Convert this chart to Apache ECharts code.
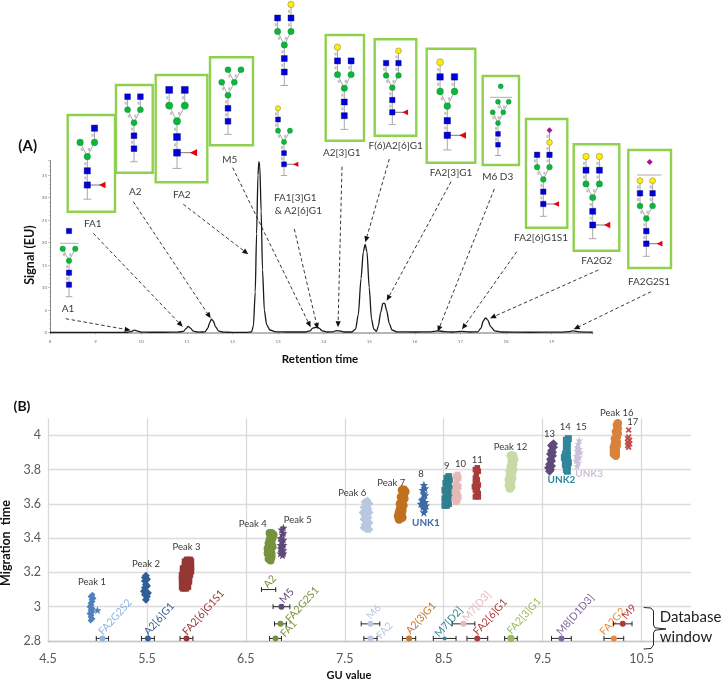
<!DOCTYPE html>
<html><head><meta charset="utf-8">
<style>html,body{margin:0;padding:0;background:#fff}#c{width:722px;height:679px}</style>
<script src="https://cdn.jsdelivr.net/npm/echarts@6/dist/echarts.min.js"></script>
</head><body><div id="c"></div>
<script>
// ---------- Panel A data ----------
const traceTime=[8.0,8.5,9.0,9.5,9.7,9.78,9.85,9.92,10.0,10.2,10.5,10.8,10.93,10.98,11.03,11.08,11.14,11.25,11.4,11.46,11.5,11.54,11.58,11.63,11.7,11.8,12.0,12.3,12.42,12.46,12.5,12.53,12.56,12.58,12.6,12.63,12.66,12.7,12.75,12.82,12.95,13.2,13.6,13.7,13.76,13.8,13.85,13.9,13.97,14.08,14.2,14.28,14.35,14.45,14.62,14.7,14.76,14.82,14.87,14.91,14.95,15.0,15.05,15.1,15.16,15.2,15.25,15.3,15.34,15.38,15.44,15.5,15.6,16.0,16.35,16.5,16.65,16.85,17.03,17.2,17.38,17.45,17.5,17.55,17.6,17.66,17.75,17.9,18.5,19.2,19.4,19.47,19.6,19.9];
const traceSignal=[0.05,0.05,0.05,0.08,0.1,0.25,0.55,0.35,0.12,0.1,0.1,0.12,0.3,0.9,1.4,1.0,0.35,0.12,0.2,1.0,2.2,3.0,2.6,1.3,0.35,0.12,0.08,0.08,0.2,1.5,9,22,35,38,37,27,14,5,1.8,0.6,0.2,0.15,0.15,0.4,1.0,1.1,1.25,1.0,0.4,0.15,0.2,0.45,0.4,0.15,0.15,0.8,4,12,18,19.6,18,10,3,0.8,0.3,1.5,4.5,6.5,6.5,5,2,0.6,0.2,0.15,0.2,0.4,0.25,0.15,0.3,0.15,0.2,1,2.6,3.3,2.8,1.4,0.4,0.15,0.1,0.12,0.25,0.4,0.2,0.1];

// ---------- Panel B data: replicate clusters [GU, migration time] ----------
const peak1=[[4.95,3.07],[4.93,3.06],[4.96,3.05],[4.94,3.04],[4.95,3.03],[4.93,3.02],[4.94,3.01],[4.92,3.0],[4.95,2.99],[4.93,2.98],[4.95,2.97],[4.92,2.96],[4.94,2.95],[4.93,2.94],[4.95,2.93],[4.93,2.92]];
const peak1b=[[5.0,2.98]];
const peak2=[[5.49,3.18],[5.48,3.17],[5.5,3.16],[5.48,3.15],[5.49,3.13],[5.5,3.12],[5.48,3.11],[5.47,3.09],[5.49,3.08],[5.51,3.08],[5.48,3.07],[5.5,3.06],[5.49,3.04]];
const peak3=[[5.93,3.27],[5.91,3.27],[5.89,3.26],[5.94,3.26],[5.92,3.25],[5.89,3.24],[5.94,3.23],[5.87,3.22],[5.91,3.22],[5.94,3.21],[5.87,3.2],[5.9,3.2],[5.93,3.19],[5.86,3.18],[5.89,3.18],[5.92,3.17],[5.86,3.16],[5.9,3.15],[5.92,3.15],[5.87,3.14],[5.9,3.13],[5.86,3.12],[5.88,3.12],[5.91,3.12],[5.87,3.11],[5.89,3.11]];
const peak4=[[6.76,3.43],[6.74,3.43],[6.78,3.42],[6.75,3.41],[6.77,3.4],[6.74,3.39],[6.76,3.38],[6.73,3.37],[6.76,3.36],[6.74,3.35],[6.77,3.35],[6.72,3.34],[6.75,3.33],[6.73,3.32],[6.76,3.31],[6.72,3.31],[6.74,3.3],[6.76,3.29],[6.73,3.28],[6.75,3.27]];
const peak5=[[6.88,3.46],[6.86,3.45],[6.88,3.43],[6.87,3.42],[6.85,3.4],[6.88,3.39],[6.86,3.38],[6.88,3.36],[6.85,3.36],[6.87,3.35],[6.85,3.34],[6.88,3.33],[6.86,3.32],[6.88,3.31],[6.85,3.31],[6.87,3.3]];
const peak6=[[7.73,3.62],[7.7,3.61],[7.75,3.6],[7.72,3.59],[7.69,3.58],[7.74,3.57],[7.71,3.56],[7.75,3.55],[7.68,3.55],[7.72,3.54],[7.7,3.53],[7.74,3.52],[7.69,3.51],[7.72,3.5],[7.75,3.49],[7.7,3.48],[7.73,3.47],[7.69,3.46],[7.72,3.45],[7.75,3.45]];
const peak7=[[8.1,3.68],[8.08,3.68],[8.11,3.67],[8.09,3.65],[8.07,3.64],[8.1,3.63],[8.08,3.61],[8.06,3.6],[8.09,3.59],[8.06,3.57],[8.08,3.56],[8.05,3.55],[8.07,3.54],[8.04,3.53],[8.06,3.52],[8.08,3.52],[8.05,3.51]];
const peak8=[[8.3,3.71],[8.31,3.69],[8.29,3.68],[8.3,3.66],[8.31,3.65],[8.29,3.63],[8.28,3.62],[8.31,3.61],[8.27,3.6],[8.3,3.6],[8.32,3.59],[8.29,3.58],[8.31,3.57],[8.3,3.55]];
const peak9=[[8.55,3.76],[8.53,3.75],[8.56,3.74],[8.54,3.73],[8.52,3.72],[8.55,3.71],[8.53,3.7],[8.56,3.69],[8.51,3.68],[8.54,3.67],[8.56,3.66],[8.52,3.65],[8.55,3.64],[8.51,3.63],[8.54,3.62],[8.52,3.61],[8.55,3.6],[8.51,3.59],[8.53,3.59]];
const peak10=[[8.64,3.77],[8.62,3.76],[8.65,3.75],[8.63,3.73],[8.62,3.71],[8.65,3.7],[8.63,3.69],[8.61,3.67],[8.64,3.66],[8.62,3.65],[8.65,3.64],[8.61,3.63],[8.64,3.62],[8.62,3.61]];
const peak11=[[8.84,3.81],[8.82,3.8],[8.85,3.79],[8.83,3.77],[8.82,3.75],[8.84,3.74],[8.82,3.72],[8.85,3.71],[8.81,3.7],[8.84,3.69],[8.82,3.68],[8.85,3.66],[8.83,3.65],[8.82,3.64],[8.85,3.64]];
const peak12=[[9.2,3.88],[9.18,3.88],[9.21,3.86],[9.19,3.85],[9.2,3.83],[9.18,3.82],[9.2,3.8],[9.17,3.79],[9.19,3.78],[9.17,3.76],[9.19,3.75],[9.16,3.74],[9.18,3.73],[9.16,3.71],[9.18,3.7],[9.17,3.69]];
const peak13=[[9.61,3.95],[9.59,3.94],[9.61,3.93],[9.59,3.91],[9.6,3.9],[9.58,3.89],[9.6,3.88],[9.58,3.86],[9.59,3.85],[9.57,3.83],[9.59,3.82],[9.56,3.81],[9.58,3.8],[9.57,3.79]];
const peak14=[[9.76,3.98],[9.74,3.97],[9.75,3.95],[9.74,3.93],[9.75,3.91],[9.73,3.89],[9.75,3.88],[9.72,3.87],[9.75,3.86],[9.74,3.85],[9.76,3.84],[9.73,3.83],[9.75,3.82],[9.74,3.8],[9.75,3.79]];
const peak15=[[9.87,3.97],[9.86,3.95],[9.85,3.93],[9.87,3.92],[9.85,3.91],[9.88,3.9],[9.86,3.89],[9.84,3.88],[9.87,3.87],[9.85,3.86],[9.84,3.85],[9.86,3.84],[9.85,3.82]];
const peak16=[[10.26,4.07],[10.25,4.06],[10.26,4.04],[10.24,4.02],[10.26,4.01],[10.25,3.99],[10.23,3.98],[10.25,3.96],[10.23,3.95],[10.25,3.94],[10.22,3.93],[10.24,3.92],[10.22,3.91],[10.24,3.9],[10.22,3.89],[10.24,3.88]];
const peak17=[[10.37,4.03],[10.37,3.99],[10.36,3.98],[10.38,3.97],[10.36,3.96],[10.37,3.95],[10.38,3.95],[10.36,3.94],[10.37,3.93]];

const clusterColors=['#4f81bd','#4f81bd','#2f5f96','#953735','#76923c','#5f497a','#b9c8e0','#c0711f','#3d6ba8','#2f7f8f','#e6b9b8','#a93c3a','#c8daa5','#604a7b','#31859c','#ccc1da','#d9823b','#c0504d'];

// Database window
const dbNames=['FA2G2S2','A2[6]G1','FA2[6]G1S1','A2','M5','FA2G2S1','FA1','M6','FA2','A2(3)G1','M7[D2]','M7[D3]','FA2[6]G1','FA2[3]G1','M8[D1D3]','FA2G2','M9'];
const dbGU=[5.05,5.51,5.90,6.73,6.86,6.85,6.80,7.76,7.76,8.15,8.51,8.70,8.84,9.18,9.69,10.22,10.31];
const dbMT=[2.815,2.815,2.815,3.10,3.0,2.9,2.815,2.9,2.815,2.815,2.815,2.9,2.815,2.815,2.815,2.815,2.9];
const dbErr=[0.062,0.065,0.065,0.072,0.085,0.06,0.06,0.094,0.067,0.067,0.115,0.115,0.105,0.064,0.10,0.10,0.094];
const dbColors=['#8db4e2','#376092','#953735','#76923c','#5f497a','#76923c','#76923c','#b9c8e0','#b9c8e0','#c8742a','#31859c','#e6b9b8','#a93c3a','#9bbb59','#7f66a0','#e8893a','#b03a3a'];
const dbDot=[3,3,3,0,3,3,3,3,3,3,2,3,3,3.6,3,3,3];
const dbLabelDX=[-2,-2,-2,-3,0,7,7,-2,8,-1,-8,1,-2,-2,-3,-12,1];
const dbLabelDY=[-5,-5,-5,-3,-5,-3,-3,-6,-1,-6,-3,-4,-5,-6,-5,-5,-6];

const peakNames=['Peak 1','Peak 2','Peak 3','Peak 4','Peak 5','Peak 6','Peak 7','8','9','10','11','Peak 12','13','14','15','Peak 16','17'];
const peakNameGU=[4.945,5.49,5.90,6.57,7.025,7.575,7.97,8.27,8.53,8.67,8.84,9.175,9.57,9.73,9.89,10.25,10.41];
const peakNameMT=[3.142,3.249,3.35,3.484,3.505,3.665,3.72,3.772,3.818,3.833,3.857,3.931,4.008,4.047,4.049,4.127,4.075];
const unkNames=['UNK1','UNK2','UNK3'];
const unkGU=[8.32,9.69,9.97];
const unkMT=[3.492,3.742,3.777];
const unkColors=['#3d6ba8','#31859c','#ccc1da'];

// ---------- Annotation graphics (glycan cartoons, frames, arrows) ----------
const FONT='Lato';
const g=[];
const BLUE='#0000dd',GREEN='#0db53c',YEL='#ffee00',RED='#e8000d',MAG='#a5129c',STEM='#a8a8a8';
function line(x1,y1,x2,y2,c,w){g.push({type:'line',z:20,shape:{x1,y1,x2,y2},style:{stroke:c||STEM,lineWidth:w||1}});}
function node(t,x,y,a){
  if(t==='N'){const s=a*0.44;g.push({type:'rect',z:21,shape:{x:x-s/2,y:y-s/2,width:s,height:s},style:{fill:BLUE,stroke:'#000066',lineWidth:0.4}});}
  else if(t==='M'){g.push({type:'circle',z:21,shape:{cx:x,cy:y,r:a*0.235},style:{fill:GREEN,stroke:'#0a7a2a',lineWidth:0.3}});}
  else if(t==='G'){g.push({type:'circle',z:21,shape:{cx:x,cy:y,r:a*0.235},style:{fill:YEL,stroke:'#777',lineWidth:0.5}});}
  else if(t==='S'){const r=a*0.24;g.push({type:'polygon',z:21,shape:{points:[[x,y-r],[x+r,y],[x,y+r],[x-r,y]]},style:{fill:MAG}});}
}
function link(x1,y1,x2,y2){line(x1,y1,x2,y2);const mx=(x1+x2)/2,my=(y1+y2)/2;g.push({type:'rect',z:20,shape:{x:mx-3,y:my-1.5,width:2.2,height:3},style:{fill:'#c4c4c4'}});}
function chain(x,yStart,a,str){let py=null;[...str].forEach((t,i)=>{const y=yStart-i*a;if(py!==null)link(x,py,x,y);node(t,x,y,a);py=y;});}
function glycan(cx,c1,a,b,L,R,fuc,extra){
  const c2=c1-a,man=c1-2*a,br=c1-3*a;
  line(cx,c1,cx,c1+a);line(cx-a*0.28,c1+a,cx+a*0.28,c1+a);
  link(cx,c1,cx,c2);link(cx,c2,cx,man);
  if(L){link(cx,man,cx-b,br);chain(cx-b,br,a,L);}
  if(R){link(cx,man,cx+b,br);chain(cx+b,br,a,R);}
  node('N',cx,c1,a);node('N',cx,c2,a);node('M',cx,man,a);
  if(fuc){const fx=cx+a*1.05,r=a*0.23;line(cx,c1,fx,c1,'#555',0.8);g.push({type:'polygon',z:21,shape:{points:[[fx-r,c1],[fx+r,c1-r],[fx+r,c1+r]]},style:{fill:RED}});}
  (extra||[]).forEach(e=>{
    if(e[0]==='bar'){line(e[1],e[3],e[2],e[3],'#999',0.8);return;}
    if(e.length>3)link(e[3],e[4],e[1],e[2]);
    node(e[0],e[1],e[2],a);
  });
}
function box(l,t,r,b){g.push({type:'rect',z:19,shape:{x:l,y:t,width:r-l,height:b-t},style:{fill:'none',stroke:'#8fd14f',lineWidth:2.4}});}
function txt(s,x,y,o){o=o||{};g.push({type:'text',z:25,x,y,rotation:o.rot||0,style:{text:s,fill:o.fill||'#3a3a3a',font:(o.w||'normal')+' '+(o.size||10)+'px '+FONT,align:o.align||'center',verticalAlign:'middle'}});}
function arrow(x1,y1,x2,y2){
  const d=Math.hypot(x2-x1,y2-y1),ux=(x2-x1)/d,uy=(y2-y1)/d,h=6,w=2.6;
  const bx=x2-ux*h,by=y2-uy*h;
  g.push({type:'line',z:22,shape:{x1,y1,x2:bx,y2:by},style:{stroke:'#222',lineWidth:0.9,lineDash:[3.5,2.5]}});
  g.push({type:'polygon',z:22,shape:{points:[[x2,y2],[bx-uy*w,by+ux*w],[bx+uy*w,by-ux*w]]},style:{fill:'#111'}});
}
[[67.7,115,115,211.7],[116,85,152.7,172.7],[155.7,75,207.3,182.3],[210,57.3,253,145.3],[325.7,35,364,140.7],[374.7,39.3,416.3,135.7],[426.7,48.7,475.3,162.7],[482.7,76,519,165],[526,119,567.3,227.7],[573.7,144.3,619.3,250.7],[628.3,150,671,268]].forEach(b=>box(...b));
glycan(69,284.7,12,6.3,'M','M',false,[['bar',60,78.5,243.3],['N',69,231]]);
glycan(87.3,185,14.2,7.2,'M','MN',true);
glycan(134,148.7,13,6.4,'MN','MN',false);
glycan(177,152.7,15.7,7.8,'MN','MN',true);
glycan(228,121.3,13,6.3,'M','M',false,[['M',228,69.7,234.3,82.3],['M',241,69.7,234.3,82.3]]);
glycan(284.3,72,13.5,6.7,'MN','MNG',false);
glycan(284,164.3,11.2,6,'MNG','M',true);
glycan(344.3,115.7,13.7,6.8,'MNG','MN',false);
glycan(392.3,112.3,12.3,6.2,'MN','MNG',true);
glycan(447.3,135.3,14.6,7.2,'MNG','MN',true);
glycan(498,144.7,10.8,5.3,'M','M',false,[['M',498,101.7,503.3,112.3],['M',508.7,101.7,503.3,112.3],['bar',490,512,97.3],['M',500.7,86.3]]);
glycan(543.3,204,12.3,6.2,'MN','MNGS',true);
glycan(592.7,225,13.7,6.7,'MNG','MNG',true);
glycan(646.3,243.7,12.6,6.3,'MNG','MNG',true,[['bar',637,661.7,175],['S',649.7,162]]);

[['A1',68,309],['FA1',92.7,223.3],['A2',135.3,191.7],['FA2',181.7,194.3],['M5',229.7,159.3],['FA1[3]G1',295.3,197.3],['& A2[6]G1',298.3,210.3],['A2[3]G1',341.7,152.3],['F(6)A2[6]G1',395.7,145.3],['FA2[3]G1',451,172.7],['M6 D3',497.7,176.7],['FA2[6]G1S1',541,238],['FA2G2',596.7,260.7],['FA2G2S1',649,281.7]].forEach(t=>txt(t[0],t[1],t[2]));
[[65.7,318.7,130.7,330.3],[93.3,233.3,182.7,326.7],[133.3,201.7,210.7,318.3],[183.3,204.3,248.3,254.3],[232.7,167.7,310.7,327.3],[294.3,229,317.7,329],[342,166.7,338,327.3],[389.3,159,365.3,242.3],[451,181.7,386.7,300.7],[494.3,189,437.7,331.7],[516.7,251.7,462,329.3],[598.3,270,490,318.3],[651,291.7,573.7,329.3]].forEach(a=>arrow(...a));

txt('(A)',27.7,146,{w:'bold',size:15,fill:'#111'});
txt('(B)',22,406,{w:'bold',size:14,fill:'#111'});
txt('Signal (EU)',30,255,{w:'bold',size:12.5,fill:'#111',rot:Math.PI/2});
txt('Retention time',320,359,{w:'bold',size:11.5,fill:'#111'});
txt('Migration  time',6,543,{w:'bold',size:12.5,fill:'#111',rot:Math.PI/2});
txt('GU value',349,675,{w:'bold',size:11,fill:'#111'});
txt('Database',690.5,617,{size:15,fill:'#222'});
txt('window',686,637,{size:15,fill:'#222'});
g.push({type:'polyline',z:22,shape:{points:[[643.7,607.5],[651,608],[653.5,611],[653.5,625],[655,627.8],[666,629],[655,630.2],[653.5,633],[653.5,645],[651,648.5],[643.7,649]]},style:{fill:'none',stroke:'#111',lineWidth:0.9}});

// ---------- Chart ----------
const star='path://M0,-10 L2.9,-3.1 10,-3.1 4.5,1.5 6.2,8.1 0,4 -6.2,8.1 -4.5,1.5 -10,-3.1 -2.9,-3.1Z';
const cross='path://M-10,-6 L-6,-10 0,-4 6,-10 10,-6 4,0 10,6 6,10 0,4 -6,10 -10,6 -4,0Z';
function cluster(data,colorIdx,symbol,size){return {type:'scatter',xAxisIndex:1,yAxisIndex:1,data,symbol,symbolSize:size,itemStyle:{color:clusterColors[colorIdx],opacity:1},silent:true,animation:false};}

const textSeries=(names,gu,mt,colorFn,weight,size)=>({type:'custom',xAxisIndex:1,yAxisIndex:1,clip:false,silent:true,animation:false,z:6,
  data:names.map((n,i)=>[gu[i],mt[i]]),
  renderItem:(p,api)=>{const c=api.coord([api.value(0),api.value(1)]);return {type:'text',x:c[0],y:c[1],style:{text:names[p.dataIndex],fill:colorFn(p.dataIndex),font:weight+' '+size+'px '+FONT,textAlign:'center',textVerticalAlign:'middle'}};}});

const option={
  animation:false,backgroundColor:'#fff',
  grid:[
    {left:50,top:160.7,width:542.7,height:172},
    {left:48,top:418.3,width:643,height:222.7}
  ],
  xAxis:[
    {type:'value',gridIndex:0,min:8,max:19.9,interval:1,offset:4,splitLine:{show:false},
     axisLine:{lineStyle:{color:'#a0a0a0',width:1.6}},axisTick:{length:2,lineStyle:{color:'#999',width:0.6}},minorTick:{show:true,length:1,splitNumber:5,lineStyle:{color:'#aaa',width:0.5}},
     axisLabel:{fontSize:4.5,color:'#777',margin:2,showMaxLabel:false,fontFamily:FONT}},
    {type:'value',gridIndex:1,min:4.5,max:11,
     axisLine:{show:true,onZero:false,lineStyle:{color:'#c8c8c8',width:1.4}},
     axisTick:{show:false,customValues:[4.5,5.5,6.5,7.5,8.5,9.5,10.5]},
     axisLabel:{customValues:[4.5,5.5,6.5,7.5,8.5,9.5,10.5],color:'#595959',fontSize:12.5,margin:11,fontFamily:FONT},
     splitLine:{show:true,lineStyle:{color:'#d9d9d9',width:1.3}}}
  ],
  yAxis:[
    {type:'value',gridIndex:0,min:0,max:38.2,interval:5,splitLine:{show:false},
     axisLine:{show:true,lineStyle:{color:'#666',width:0.8}},axisTick:{show:true,length:2,lineStyle:{color:'#999',width:0.6}},minorTick:{show:true,length:1,splitNumber:5,lineStyle:{color:'#aaa',width:0.5}},
     axisLabel:{fontSize:4.5,color:'#777',margin:3,showMaxLabel:false,fontFamily:FONT}},
    {type:'value',gridIndex:1,min:2.8,max:4.0986,
     axisLine:{show:false},axisTick:{show:false,customValues:[2.8,3,3.2,3.4,3.6,3.8,4]},
     axisLabel:{customValues:[2.8,3,3.2,3.4,3.6,3.8,4],color:'#595959',fontSize:12.5,margin:7,fontFamily:FONT,formatter:v=>String(+v.toFixed(1))},
     splitLine:{show:true,lineStyle:{color:'#dcdcdc',width:1.3}}}
  ],
  series:[
    {type:'line',xAxisIndex:0,yAxisIndex:0,data:traceTime.map((t,i)=>[t,traceSignal[i]]),showSymbol:false,smooth:0.25,smoothMonotone:'x',lineStyle:{color:'#1a1a1a',width:1.3},silent:true,clip:false},
    cluster(peak1,0,'diamond',6),cluster(peak1b,1,star,8),
    cluster(peak2,2,'diamond',8),cluster(peak3,3,'rect',7.5),cluster(peak4,4,'circle',8),
    cluster(peak5,5,star,8),cluster(peak6,6,'diamond',8),cluster(peak7,7,'circle',9),
    cluster(peak8,8,star,8.5),cluster(peak9,9,'rect',6.5),cluster(peak10,10,'rect',6),
    cluster(peak11,11,'rect',5.5),cluster(peak12,12,'circle',9),cluster(peak13,13,'diamond',9),
    cluster(peak14,14,'rect',7),cluster(peak15,15,star,7.5),cluster(peak16,16,'circle',8.5),cluster(peak17,17,cross,6),
    {type:'custom',xAxisIndex:1,yAxisIndex:1,clip:false,silent:true,animation:false,z:5,
     data:dbNames.map((n,i)=>[dbGU[i],dbMT[i],dbErr[i]]),
     renderItem:(p,api)=>{
       const i=p.dataIndex,gu=api.value(0),mt=api.value(1),e=api.value(2);
       const a=api.coord([gu-e,mt]),b=api.coord([gu+e,mt]),c=api.coord([gu,mt]);
       const st={stroke:'#111',lineWidth:0.9};
       const kids=[
         {type:'line',shape:{x1:a[0],y1:a[1],x2:b[0],y2:b[1]},style:st},
         {type:'line',shape:{x1:a[0],y1:a[1]-2.5,x2:a[0],y2:a[1]+2.5},style:st},
         {type:'line',shape:{x1:b[0],y1:b[1]-2.5,x2:b[0],y2:b[1]+2.5},style:st},
         {type:'text',x:c[0]+dbLabelDX[i],y:c[1]+dbLabelDY[i],rotation:48*Math.PI/180,style:{text:dbNames[i],fill:dbColors[i],font:'10.5px '+FONT,textAlign:'left',textVerticalAlign:'middle'}}
       ];
       if(dbDot[i]>0)kids.push({type:'circle',shape:{cx:c[0],cy:c[1],r:dbDot[i]},style:{fill:dbColors[i]}});
       return {type:'group',children:kids};
     }},
    textSeries(peakNames,peakNameGU,peakNameMT,()=>'#3a3a3a','normal',9.5),
    textSeries(unkNames,unkGU,unkMT,i=>unkColors[i],'bold',10)
  ],
  graphic:{elements:g}
};
echarts.init(document.getElementById('c'),null,{renderer:'canvas'}).setOption(option);
</script></body></html>
